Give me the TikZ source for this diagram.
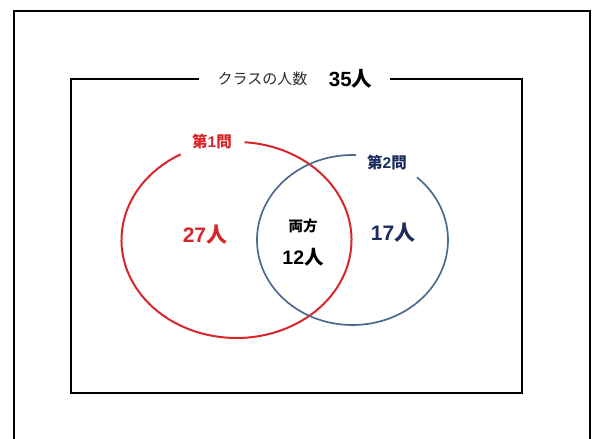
\documentclass[tikz,border=0pt]{standalone}
\usepackage{fontspec}
\setmainfont{Noto Sans CJK JP}
\newfontfamily\dg{Liberation Sans}
\definecolor{qred}{HTML}{D7262B}
\definecolor{qnavy}{HTML}{1C2D5E}
\definecolor{qblue}{HTML}{4B6A8E}
\definecolor{qgray}{HTML}{2A2A2A}
\begin{document}
\begin{tikzpicture}[x=1pt,y=1pt,
  frame/.style={line width=2pt,black},
  lbl/.style={inner sep=0pt,anchor=center,font=\bfseries}]
\useasboundingbox (0,0) rectangle (592,439);
% outer frame
\coordinate (o1) at (14,0);
\coordinate (o2) at (14,428);
\coordinate (o3) at (590,428);
\coordinate (o4) at (590,0);
\draw[frame] (o1) -- (o2) -- (o3) -- (o4);
% inner frame with title
\node[inner sep=0pt,text=qgray,font=\fontsize{15}{15}\selectfont] (t1) at (262.5,360) {クラスの人数};
\node[lbl,font=\fontsize{20.5}{20.5}\selectfont\bfseries] (t2) at (350.5,360) {{\dg\bfseries 35}人};
\coordinate (gl) at (199,360);
\coordinate (gr) at (390,360);
\coordinate (c1) at (71,360);
\coordinate (c2) at (71,46);
\coordinate (c3) at (522,46);
\coordinate (c4) at (522,360);
\draw[frame] (gr) -- (c4) -- (c3) -- (c2) -- (c1) -- (gl);
% circles
\coordinate (rc) at (236.5,199);
\coordinate (bc) at (352.5,199);
\draw[qred,line width=2pt] ([shift={(119:115 and 98)}]rc) arc[start angle=119,end angle=446,x radius=115,y radius=98];
\draw[qblue,line width=1.7pt] ([shift={(88:95.5 and 85)}]bc) arc[start angle=88,end angle=407.5,x radius=95.5,y radius=85];
% labels
\node[lbl,text=qred,font=\fontsize{15.5}{15.5}\selectfont\bfseries] (q1) at (212,297) {第{\dg\bfseries 1}問};
\node[lbl,text=qnavy,font=\fontsize{15.5}{15.5}\selectfont\bfseries] (q2) at (387,276) {第{\dg\bfseries 2}問};
\node[lbl,text=qred,font=\fontsize{21}{21}\selectfont\bfseries] (n1) at (205,204) {{\dg\bfseries 27}人};
\node[lbl,text=qnavy,font=\fontsize{21}{21}\selectfont\bfseries] (n2) at (393,206) {{\dg\bfseries 17}人};
\node[lbl,text=black,font=\fontsize{14.5}{14.5}\selectfont\bfseries] (both) at (303,213) {両方};
\node[lbl,text=black,font=\fontsize{19.5}{19.5}\selectfont\bfseries] (n3) at (303,182) {{\dg\bfseries 12}人};
\end{tikzpicture}
\end{document}
